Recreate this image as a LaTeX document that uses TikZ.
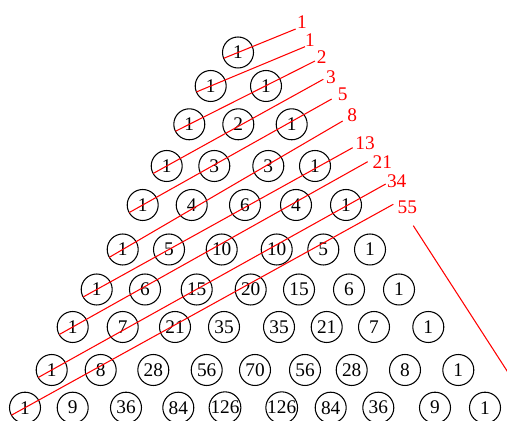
\documentclass[tikz,border=0pt]{standalone}
\usepackage{fontspec}
\setmainfont{Liberation Serif}
\usetikzlibrary{calc}

\begin{document}
\begin{tikzpicture}[
    x=0.02cm, y=-0.02cm,
    cell/.style={draw, circle, line width=0.6pt, minimum size=0.62cm, inner sep=0pt, font=\fontsize{11}{13}\selectfont},
    fiblabel/.style={text=red, inner sep=0pt, font=\fontsize{11}{13}\selectfont},
    fibline/.style={draw=red, line width=0.6pt}
]
\clip (0,0) rectangle (507,421);
% rows of the triangle: row / height / list of x-position/value
\foreach \r/\y/\row in {
    0/52.5/{238/1},
    1/86/{210.7/1,266/1},
    2/124.3/{189.3/1,238.3/2,291.7/1},
    3/166/{166.7/1,214.3/3,268.3/3,315/1},
    4/205/{142.7/1,191.7/4,245/6,296/4,346/1},
    5/249.5/{122.7/1,169/5,221.7/10,276.7/10,323.3/5,370/1},
    6/289.5/{96.7/1,145/6,196.7/15,250.7/20,299/15,349/6,399/1},
    7/327/{72.7/1,122.7/7,175/21,224/35,279/35,326.7/21,374/7,428.3/1},
    8/370/{51.7/1,100.7/8,153.3/28,206.7/56,255/70,305/56,351.7/28,405/8,458.3/1},
    9/407.7/{25/1,72.7/9,126/36,178.3/84,225/126,281.7/126,330.7/84,378.3/36,435/9,485/1}}
{
    \foreach \x/\v [count=\k from 0] in \row
        \node[cell] (n\r-\k) at (\x,\y) {\v};
}
% diagonals and their sums
\foreach \r/\ex/\ey/\lx/\ly/\f in {
    0/295.7/29/302/21.7/1,
    1/305/46.7/310/40/1,
    2/315/61/321.7/57.3/2,
    3/323.3/79.3/331/77.3/3,
    4/331.7/99/342.7/94/5,
    5/342.7/121/352.3/115/8,
    6/352.7/147.7/365/143.3/13,
    7/367.7/161.7/382.3/162.3/21,
    8/385.7/184/396.7/181.7/34,
    9/393.3/204.3/407.3/207.3/55}
{
    \coordinate (e\r) at (\ex,\ey);
    \node[fiblabel] (f\r) at (\lx,\ly) {\f};
    \draw[fibline, shorten <=-0.31cm] (n\r-0.center) -- (e\r);
}
\coordinate (s0) at (413.3,225.7);
\coordinate (s1) at (520,391);
\draw[fibline] (s0) -- (s1);
\end{tikzpicture}
\end{document}
